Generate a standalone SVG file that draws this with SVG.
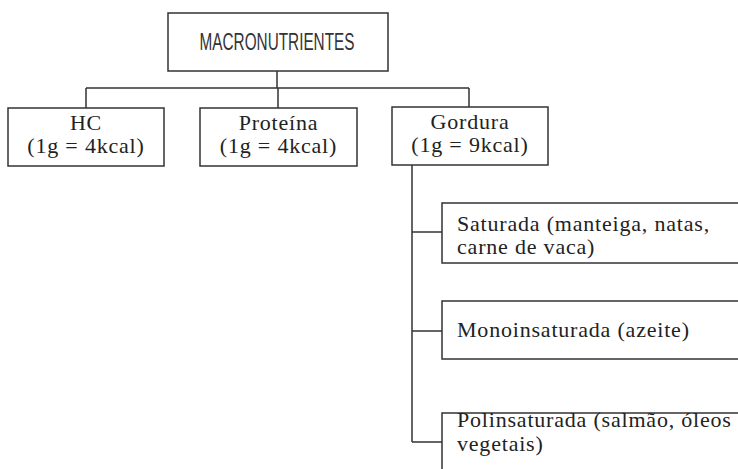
<svg xmlns="http://www.w3.org/2000/svg" width="738" height="469" viewBox="0 0 738 469">
<style>
.box{fill:#fff;stroke:#333;stroke-width:1.5}
.ln{fill:none;stroke:#333;stroke-width:1.5}
.t{font-family:"Liberation Serif","Times New Roman",serif;font-size:22px;letter-spacing:0.8px;fill:#222}
.c{text-anchor:middle}
.h{font-family:"Liberation Sans",Arial,sans-serif;font-size:24px;fill:#333;text-anchor:middle}
</style>
<rect width="738" height="469" fill="#fff"/>
<g id="connectors">
<path class="ln" d="M277 71V88M86 88H469M86 88V108M278 88V108M469 88V107"/>
<path class="ln" d="M412 165V442M412 232H442M412 331H442M412 442H442"/>
</g>
<g id="macronutrientes">
<rect class="box" x="168" y="13" width="220" height="58"/>
<text class="h" x="277" y="50" textLength="155" lengthAdjust="spacingAndGlyphs">MACRONUTRIENTES</text>
</g>
<g id="hc">
<rect class="box" x="8" y="108" width="156" height="58"/>
<text class="t c" x="86" y="130">HC</text>
<text class="t c" x="86" y="153">(1g = 4kcal)</text>
</g>
<g id="proteina">
<rect class="box" x="200" y="108" width="157" height="58"/>
<text class="t c" x="278.5" y="130">Proteína</text>
<text class="t c" x="278.5" y="153">(1g = 4kcal)</text>
</g>
<g id="gordura">
<rect class="box" x="392" y="107" width="156" height="58"/>
<text class="t c" x="470" y="129">Gordura</text>
<text class="t c" x="470" y="152">(1g = 9kcal)</text>
</g>
<g id="saturada">
<rect class="box" x="442" y="203" width="310" height="60"/>
<text class="t" x="457" y="231">Saturada (manteiga, natas,</text>
<text class="t" x="457" y="254">carne de vaca)</text>
</g>
<g id="monoinsaturada">
<rect class="box" x="442" y="301" width="310" height="58"/>
<text class="t" x="457" y="337">Monoinsaturada (azeite)</text>
</g>
<g id="polinsaturada">
<rect class="box" x="442" y="413" width="310" height="70"/>
<text class="t" x="457" y="427">Polinsaturada (salmão, óleos</text>
<text class="t" x="457" y="451">vegetais)</text>
</g>
</svg>
